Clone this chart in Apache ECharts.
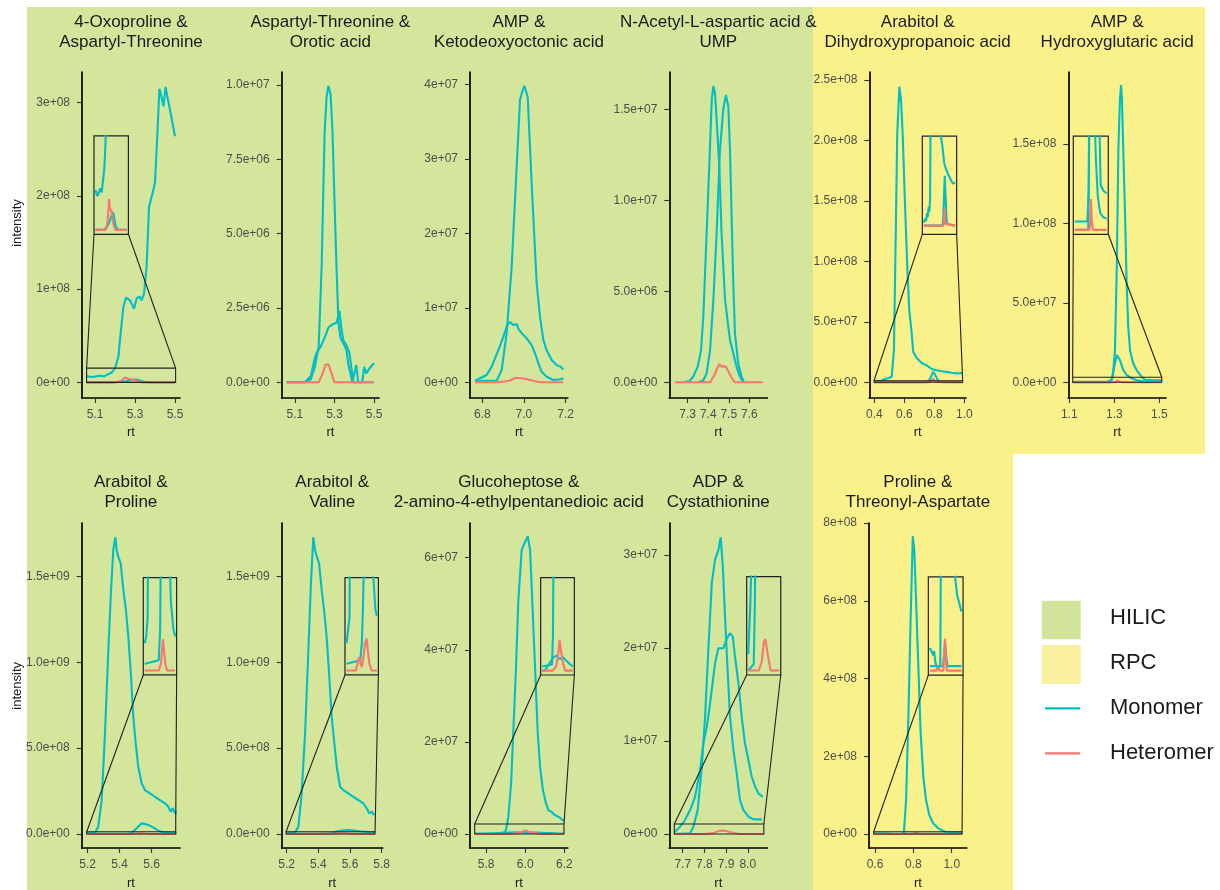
<!DOCTYPE html>
<html><head><meta charset="utf-8">
<script src="https://cdn.jsdelivr.net/npm/echarts@6/dist/echarts.min.js"></script>
<style>html,body{margin:0;padding:0;background:#fff}#c{width:1220px;height:890px}</style>
</head><body><div id="c"></div>
<script>
// ---------------- DATA (rt, intensity) ----------------
// Top row
const t1_mono1 = [[5.058,6.8e6],[5.08,5.8e6],[5.10,6.2e6],[5.125,7.1e6],[5.145,6.4e6],[5.16,8e6],[5.183,1.05e7],[5.20,1.5e7],[5.217,2.75e7],[5.228,5.26e7],[5.242,8.1e7],[5.255,9.1e7],[5.275,8.8e7],[5.295,7.9e7],[5.308,9.0e7],[5.322,9.2e7],[5.333,8.8e7],[5.345,9.5e7],[5.358,1.24e8],[5.37,1.88e8],[5.388,2.03e8],[5.40,2.14e8],[5.412,2.67e8],[5.422,3.15e8],[5.433,3.06e8],[5.442,2.96e8],[5.453,3.17e8],[5.462,3.06e8],[5.478,2.89e8],[5.50,2.64e8]];
const t1_mono2 = [[5.058,0],[5.18,0],[5.22,5e5],[5.25,1.2e6],[5.28,2.2e6],[5.30,3.0e6],[5.315,2.6e6],[5.33,1.5e6],[5.35,5e5],[5.38,0],[5.50,0]];
const t1_het   = [[5.058,0],[5.20,0],[5.225,1e6],[5.24,3e6],[5.25,5.3e6],[5.26,3.8e6],[5.27,3.6e6],[5.285,3.2e6],[5.30,1.8e6],[5.32,6e5],[5.34,0],[5.50,0]];

const t2_mono1 = [[5.058,0],[5.15,0],[5.18,1e5],[5.20,5e5],[5.22,1.2e6],[5.235,3.9e6],[5.25,8.4e6],[5.26,9.6e6],[5.269,9.97e6],[5.28,9.7e6],[5.29,8.4e6],[5.30,6.1e6],[5.31,3.9e6],[5.32,2.0e6],[5.33,1.5e6],[5.345,1.3e6],[5.36,1.1e6],[5.37,6e5],[5.38,3e5],[5.39,0],[5.40,0],[5.41,5.8e5],[5.42,0],[5.44,0],[5.45,5.2e5],[5.46,3e5],[5.48,5e5],[5.50,6.4e5]];
const t2_mono2 = [[5.058,0],[5.15,0],[5.18,2e5],[5.20,8e5],[5.21,1.0e6],[5.23,1.2e6],[5.25,1.5e6],[5.27,1.85e6],[5.29,1.95e6],[5.31,2.0e6],[5.325,2.4e6],[5.335,1.8e6],[5.345,1.4e6],[5.36,1.25e6],[5.375,1.0e6],[5.385,5e5],[5.395,0],[5.50,0]];
const t2_het   = [[5.058,0],[5.22,0],[5.24,3e5],[5.255,6e5],[5.27,6e5],[5.285,3e5],[5.30,0],[5.50,0]];

const t3_mono1 = [[6.765,2e5],[6.869,2e5],[6.893,1.65e6],[6.917,6.6e6],[6.941,1.55e7],[6.965,2.89e7],[6.981,3.79e7],[6.994,3.92e7],[7.002,3.98e7],[7.018,3.83e7],[7.037,2.67e7],[7.061,1.33e7],[7.077,8.8e6],[7.093,5.7e6],[7.109,4.3e6],[7.133,3.0e6],[7.157,2.3e6],[7.176,2.1e6],[7.189,1.7e6]];
const t3_mono2 = [[6.765,2e5],[6.789,5.4e5],[6.821,9.8e5],[6.845,2.1e6],[6.877,4.3e6],[6.901,6.1e6],[6.92,7.7e6],[6.933,8.1e6],[6.949,7.7e6],[6.965,7.8e6],[6.973,7.2e6],[6.989,6.6e6],[7.013,5.9e6],[7.037,5.0e6],[7.053,3.9e6],[7.069,2.55e6],[7.085,1.4e6],[7.109,7.5e5],[7.141,3e5],[7.176,4e5],[7.189,5.4e5]];
const t3_het   = [[6.765,0],[6.88,0],[6.93,2e5],[6.96,6e5],[6.98,5.5e5],[7.0,5e5],[7.03,3e5],[7.06,1e5],[7.08,0],[7.189,0]];

const t4_mono1 = [[7.29,1e5],[7.30,0],[7.311,1e5],[7.327,3.1e5],[7.349,8.6e5],[7.365,1.77e6],[7.376,3.6e6],[7.389,7.27e6],[7.405,1.185e7],[7.417,1.55e7],[7.425,1.628e7],[7.433,1.588e7],[7.441,1.44e7],[7.454,1.185e7],[7.465,8.19e6],[7.482,4.52e6],[7.506,2.32e6],[7.522,1.59e6],[7.538,8.6e5],[7.554,3.1e5],[7.571,0]];
const t4_mono2 = [[7.35,0],[7.376,1e5],[7.392,4.9e5],[7.409,1.77e6],[7.425,4.52e6],[7.441,8.19e6],[7.457,1.276e7],[7.473,1.496e7],[7.486,1.579e7],[7.498,1.514e7],[7.506,1.276e7],[7.514,9.1e6],[7.522,5.44e6],[7.530,2.69e6],[7.546,1.04e6],[7.562,3.1e5],[7.574,0]];
const t4_het   = [[7.239,0],[7.41,0],[7.43,4e5],[7.445,8e5],[7.455,1.0e6],[7.465,8.6e5],[7.475,8.8e5],[7.486,8.6e5],[7.498,6e5],[7.514,2.5e5],[7.53,0],[7.665,0]];

const t5_mono1 = [[0.40,5e5],[0.42,1.2e6],[0.44,8e5],[0.46,2.2e6],[0.47,1.5e6],[0.49,3.3e6],[0.50,2.4e6],[0.516,4.6e6],[0.531,2.67e7],[0.543,1.232e8],[0.553,2.06e8],[0.567,2.445e8],[0.578,2.335e8],[0.589,2.06e8],[0.604,1.495e8],[0.62,9.56e7],[0.633,5.98e7],[0.645,4.6e7],[0.66,2.5e7],[0.683,2.0e7],[0.716,1.6e7],[0.749,1.4e7],[0.783,1.1e7],[0.816,1.0e7],[0.849,9.2e6],[0.883,8.6e6],[0.916,7.9e6],[0.949,7.4e6],[0.989,7.6e6]];
const t5_mono2 = [[0.398,0],[0.74,0],[0.76,5e5],[0.775,4e6],[0.793,8.8e6],[0.81,5e6],[0.825,1.5e6],[0.84,3e5],[0.86,0],[0.989,0]];
const t5_het   = [[0.398,0],[0.765,0],[0.78,1e6],[0.79,3e6],[0.80,1.5e6],[0.81,3e5],[0.82,0],[0.989,0]];

const t6_mono1 = [[1.115,0],[1.281,0],[1.293,3.2e6],[1.303,1.99e7],[1.311,7.2e7],[1.318,1.46e8],[1.325,1.78e8],[1.33,1.87e8],[1.334,1.78e8],[1.34,1.46e8],[1.348,1.04e8],[1.355,6.2e7],[1.362,3.5e7],[1.37,2.0e7],[1.384,1.2e7],[1.399,7.7e6],[1.422,3.5e6],[1.436,1.6e6],[1.47,1.4e6],[1.511,1.3e6]];
const t6_mono2 = [[1.115,3e5],[1.27,3e5],[1.288,1.4e6],[1.303,1.2e7],[1.311,1.72e7],[1.325,1.4e7],[1.34,7.7e6],[1.355,4.6e6],[1.377,2.5e6],[1.40,1.2e6],[1.43,6e5],[1.47,4.5e5],[1.511,4e5]];
const t6_het   = [[1.115,0],[1.295,0],[1.305,2e5],[1.315,1.1e6],[1.325,3e5],[1.34,0],[1.511,0]];

// Bottom row
const b1_mono1 = [[5.194,4e6],[5.22,5e6],[5.246,7.8e6],[5.266,4.3e7],[5.2875,1.98e8],[5.308,5.87e8],[5.329,1.072e9],[5.346,1.422e9],[5.36,1.655e9],[5.373,1.729e9],[5.381,1.655e9],[5.391,1.616e9],[5.406,1.578e9],[5.423,1.422e9],[5.439,1.305e9],[5.454,1.15e9],[5.471,9.17e8],[5.485,6.84e8],[5.50,5.28e8],[5.516,3.92e8],[5.5375,2.95e8],[5.558,2.56e8],[5.589,2.37e8],[5.62,2.17e8],[5.652,1.98e8],[5.683,1.79e8],[5.704,1.59e8],[5.719,1.3e8],[5.731,1.5e8],[5.746,1.2e8],[5.756,1.3e8]];
const b1_mono2 = [[5.194,1e6],[5.45,1.5e6],[5.475,6e6],[5.506,3.3e7],[5.538,6.2e7],[5.558,5.8e7],[5.579,5.2e7],[5.6,4.3e7],[5.62,3.3e7],[5.641,1.9e7],[5.673,1e7],[5.72,6e6],[5.756,5e6]];
const b1_het   = [[5.194,0],[5.45,0],[5.49,1e6],[5.51,3e6],[5.528,4.6e6],[5.545,3e6],[5.57,1e6],[5.60,0],[5.75,0]];

const b2_mono1 = [[5.196,4e6],[5.252,7.8e6],[5.274,4.3e7],[5.294,2.3e8],[5.316,5.87e8],[5.337,1.072e9],[5.353,1.46e9],[5.368,1.729e9],[5.379,1.655e9],[5.39,1.616e9],[5.404,1.578e9],[5.421,1.422e9],[5.436,1.305e9],[5.452,1.15e9],[5.469,9.17e8],[5.484,6.84e8],[5.501,5.28e8],[5.516,3.92e8],[5.537,2.75e8],[5.558,2.56e8],[5.589,2.37e8],[5.62,2.17e8],[5.653,1.98e8],[5.684,1.79e8],[5.705,1.5e8],[5.722,1.2e8],[5.737,1.3e8],[5.751,1.1e8]];
const b2_mono2 = [[5.196,1e6],[5.45,1.5e6],[5.48,4e6],[5.5,9e6],[5.52,1.6e7],[5.55,2e7],[5.586,2.3e7],[5.62,2e7],[5.66,1.6e7],[5.70,1.3e7],[5.73,9e6],[5.758,8e6]];
const b2_het   = [[5.196,0],[5.37,0],[5.40,1e6],[5.43,2e6],[5.46,1e6],[5.48,5e5],[5.51,2e6],[5.54,4e6],[5.568,4.7e6],[5.59,3e6],[5.62,1e6],[5.66,0],[5.758,0]];

const b3_mono1 = [[5.744,1e5],[5.888,1.5e5],[5.902,8.7e5],[5.914,3.76e6],[5.928,1.1e7],[5.939,2.19e7],[5.953,3.63e7],[5.965,5.08e7],[5.982,6.17e7],[6.0,6.35e7],[6.013,6.46e7],[6.025,6.17e7],[6.036,5.08e7],[6.05,3.63e7],[6.064,2.19e7],[6.076,1.46e7],[6.09,9.6e6],[6.106,6.7e6],[6.118,5.2e6],[6.135,4.8e6],[6.152,4.1e6],[6.169,3.76e6],[6.187,3.2e6],[6.198,2.9e6]];
const b3_mono2 = [[5.744,0],[5.78,0],[5.84,1.5e5],[5.91,3.3e5],[5.96,3.7e5],[6.0,2.8e5],[6.05,3.3e5],[6.09,2.6e5],[6.16,1.5e5],[6.198,1e5]];
const b3_het   = [[5.744,0],[5.90,0],[5.95,1e5],[5.98,4e5],[6.0,7.5e5],[6.02,5e5],[6.05,2e5],[6.08,0],[6.198,0]];

const b4_mono1 = [[7.661,0],[7.734,7.5e4],[7.749,7.9e5],[7.769,2.58e6],[7.788,7.24e6],[7.803,1.26e7],[7.818,1.98e7],[7.834,2.7e7],[7.849,2.95e7],[7.864,3.05e7],[7.875,3.19e7],[7.885,2.87e7],[7.895,2.34e7],[7.906,1.8e7],[7.918,1.26e7],[7.934,9.0e6],[7.949,6.5e6],[7.964,3.66e6],[7.98,2.58e6],[8.003,1.86e6],[8.026,1.58e6],[8.065,1.58e6]];
const b4_mono2 = [[7.661,2e5],[7.688,7.9e5],[7.71,1.5e6],[7.734,2.58e6],[7.757,4.0e6],[7.78,6.88e6],[7.795,9.75e6],[7.811,1.154e7],[7.826,1.405e7],[7.849,1.835e7],[7.864,1.997e7],[7.887,1.997e7],[7.903,2.1e7],[7.918,2.158e7],[7.931,2.12e7],[7.941,1.906e7],[7.957,1.62e7],[7.972,1.26e7],[7.987,9.75e6],[8.003,7.96e6],[8.018,6.16e6],[8.034,5.09e6],[8.049,4.37e6],[8.069,4.0e6]];
const b4_het   = [[7.661,0],[7.80,0],[7.84,1e5],[7.87,3.5e5],[7.89,3.8e5],[7.92,2e5],[7.96,0],[8.074,0]];

const b5_mono1 = [[0.593,1.5e6],[0.61,1.4e6],[0.625,1.2e6],[0.64,1.0e6],[0.655,1.3e6],[0.67,6e5],[0.69,3e5],[0.73,2e5],[0.745,5e5],[0.751,6e6],[0.762,8.74e7],[0.774,3.02e8],[0.786,5.59e8],[0.797,7.66e8],[0.805,7.3e8],[0.814,6.02e8],[0.826,4.3e8],[0.838,2.59e8],[0.852,1.47e8],[0.866,8.74e7],[0.883,4.9e7],[0.904,2.7e7],[0.930,1.45e7],[0.965,6e6],[0.99,5e6],[1.02,4.5e6],[1.054,3.9e6]];
const b5_mono2 = [[0.593,3e5],[0.78,3e5],[0.80,1e6],[0.815,1.9e6],[0.83,1e6],[0.85,3e5],[1.054,3e5]];
const b5_het   = [[0.593,0],[0.69,0],[0.70,2e5],[0.72,2e5],[0.74,0],[0.79,0],[0.80,1e6],[0.812,2.1e6],[0.825,8e5],[0.84,0],[1.054,0]];

// Tick values and labels
const t1_xTicks=[5.1,5.3,5.5], t1_xLabels=['5.1','5.3','5.5'];
const t1_yTicks=[0,1e8,2e8,3e8], t1_yLabels=['0e+00','1e+08','2e+08','3e+08'];
const t2_xTicks=[5.1,5.3,5.5], t2_xLabels=['5.1','5.3','5.5'];
const t2_yTicks=[0,2.5e6,5e6,7.5e6,1e7], t2_yLabels=['0.0e+00','2.5e+06','5.0e+06','7.5e+06','1.0e+07'];
const t3_xTicks=[6.8,7.0,7.2], t3_xLabels=['6.8','7.0','7.2'];
const t3_yTicks=[0,1e7,2e7,3e7,4e7], t3_yLabels=['0e+00','1e+07','2e+07','3e+07','4e+07'];
const t4_xTicks=[7.3,7.4,7.5,7.6], t4_xLabels=['7.3','7.4','7.5','7.6'];
const t4_yTicks=[0,5e6,1e7,1.5e7], t4_yLabels=['0.0e+00','5.0e+06','1.0e+07','1.5e+07'];
const t5_xTicks=[0.4,0.6,0.8,1.0], t5_xLabels=['0.4','0.6','0.8','1.0'];
const t5_yTicks=[0,5e7,1e8,1.5e8,2e8,2.5e8], t5_yLabels=['0.0e+00','5.0e+07','1.0e+08','1.5e+08','2.0e+08','2.5e+08'];
const t6_xTicks=[1.1,1.3,1.5], t6_xLabels=['1.1','1.3','1.5'];
const t6_yTicks=[0,5e7,1e8,1.5e8], t6_yLabels=['0.0e+00','5.0e+07','1.0e+08','1.5e+08'];
const b1_xTicks=[5.2,5.4,5.6], b1_xLabels=['5.2','5.4','5.6'];
const b1_yTicks=[0,5e8,1e9,1.5e9], b1_yLabels=['0.0e+00','5.0e+08','1.0e+09','1.5e+09'];
const b2_xTicks=[5.2,5.4,5.6,5.8], b2_xLabels=['5.2','5.4','5.6','5.8'];
const b2_yTicks=[0,5e8,1e9,1.5e9], b2_yLabels=['0.0e+00','5.0e+08','1.0e+09','1.5e+09'];
const b3_xTicks=[5.8,6.0,6.2], b3_xLabels=['5.8','6.0','6.2'];
const b3_yTicks=[0,2e7,4e7,6e7], b3_yLabels=['0e+00','2e+07','4e+07','6e+07'];
const b4_xTicks=[7.7,7.8,7.9,8.0], b4_xLabels=['7.7','7.8','7.9','8.0'];
const b4_yTicks=[0,1e7,2e7,3e7], b4_yLabels=['0e+00','1e+07','2e+07','3e+07'];
const b5_xTicks=[0.6,0.8,1.0], b5_xLabels=['0.6','0.8','1.0'];
const b5_yTicks=[0,2e8,4e8,6e8,8e8], b5_yLabels=['0e+00','2e+08','4e+08','6e+08','8e+08'];

// Panel titles
const titles = {
  t1:'4-Oxoproline &\nAspartyl-Threonine', t2:'Aspartyl-Threonine &\nOrotic acid', t3:'AMP &\nKetodeoxyoctonic acid',
  t4:'N-Acetyl-L-aspartic acid &\nUMP', t5:'Arabitol &\nDihydroxypropanoic acid', t6:'AMP &\nHydroxyglutaric acid',
  b1:'Arabitol &\nProline', b2:'Arabitol &\nValine', b3:'Glucoheptose &\n2-amino-4-ethylpentanedioic acid',
  b4:'ADP &\nCystathionine', b5:'Proline &\nThreonyl-Aspartate'
};
// Magnified regions: [x0, x1, y0, y1] in data units; inset placement in panel data units
const t1_from=[5.058,5.503,0,1.53e7],  t1_to=[5.095,5.267,1.588e8,2.643e8];
const t5_from=[0.398,0.989,0,1.3e6],   t5_to=[0.72,0.949,1.224e8,2.037e8];
const t6_from=[1.115,1.511,0,3.2e6],   t6_to=[1.1178,1.2733,0.9314e8,1.55e8];
const b1_from=[5.194,5.75,0,1.3e7],    b1_to=[5.5475,5.756,0.9266e9,1.4936e9];
const b2_from=[5.196,5.758,0,1.3e7],   b2_to=[5.568,5.779,0.9266e9,1.4936e9];
const b3_from=[5.742,6.198,0,2.17e6],  b3_to=[6.079,6.251,3.453e7,5.566e7];
const b4_from=[7.661,8.074,0,1.08e6],  b4_to=[7.995,8.152,1.71e7,2.767e7];
const b5_from=[0.593,1.054,0,5.9e6],   b5_to=[0.878,1.059,4.087e8,6.614e8];

// ---------------- LAYOUT / STYLE ----------------
const FONT = '"Liberation Sans", Arial, Helvetica, sans-serif';
const MONO = '#00BFC4', HET = '#F8766D';
const GREEN = '#d4e59c', YELLOW = '#fbf18b';
const LW = 2.1;

const TOP_A = 72, H_A = 326, TOP_B = 523, H_B = 325;
const panels = [
  {id:'t1', left:82,    top:TOP_A, width:98,   height:H_A, x:[5.035,5.525],   y:[-0.168e8,3.329e8], mono:[t1_mono1,t1_mono2], het:t1_het, xt:t1_xTicks, xl:t1_xLabels, yt:t1_yTicks, yl:t1_yLabels, from:t1_from, to:t1_to},
  {id:'t2', left:281.7, top:TOP_A, width:97.3, height:H_A, x:[5.033,5.525],   y:[-0.0528e7,1.0437e7], mono:[t2_mono1,t2_mono2], het:t2_het, xt:t2_xTicks, xl:t2_xLabels, yt:t2_yTicks, yl:t2_yLabels},
  {id:'t3', left:470,   top:TOP_A, width:97.7, height:H_A, x:[6.741,7.21],    y:[-0.211e7,4.165e7], mono:[t3_mono1,t3_mono2], het:t3_het, xt:t3_xTicks, xl:t3_xLabels, yt:t3_yTicks, yl:t3_yLabels},
  {id:'t4', left:669.3, top:TOP_A, width:98,   height:H_A, x:[7.2105,7.6876], y:[-0.0863e7,1.705e7], mono:[t4_mono1,t4_mono2], het:t4_het, xt:t4_xTicks, xl:t4_xLabels, yt:t4_yTicks, yl:t4_yLabels},
  {id:'t5', left:869.3, top:TOP_A, width:96.7, height:H_A, x:[0.3667,1.0113], y:[-0.13e8,2.567e8], mono:[t5_mono1,t5_mono2], het:t5_het, xt:t5_xTicks, xl:t5_xLabels, yt:t5_yTicks, yl:t5_yLabels, from:t5_from, to:t5_to, viewY:[-0.75e6,1.5e7]},
  {id:'t6', left:1068.3,top:TOP_A, width:97.7, height:H_A, x:[1.0956,1.5298], y:[-0.0988e8,1.953e8], mono:[t6_mono1,t6_mono2], het:t6_het, xt:t6_xTicks, xl:t6_xLabels, yt:t6_yTicks, yl:t6_yLabels, from:t6_from, to:t6_to},
  {id:'b1', left:81.7,  top:TOP_B, width:98.3, height:H_B, x:[5.1625,5.777],  y:[-0.0816e9,1.812e9], mono:[b1_mono1,b1_mono2], het:b1_het, xt:b1_xTicks, xl:b1_xLabels, yt:b1_yTicks, yl:b1_yLabels, from:b1_from, to:b1_to},
  {id:'b2', left:281.7, top:TOP_B, width:101,  height:H_B, x:[5.1684,5.8063], y:[-0.0816e9,1.812e9], mono:[b2_mono1,b2_mono2], het:b2_het, xt:b2_xTicks, xl:b2_xLabels, yt:b2_yTicks, yl:b2_yLabels, from:b2_from, to:b2_to},
  {id:'b3', left:470,   top:TOP_B, width:97.7, height:H_B, x:[5.718,6.217],   y:[-0.304e7,6.754e7], mono:[b3_mono1,b3_mono2], het:b3_het, xt:b3_xTicks, xl:b3_xLabels, yt:b3_yTicks, yl:b3_yLabels, from:b3_from, to:b3_to},
  {id:'b4', left:669.3, top:TOP_B, width:98,   height:H_B, x:[7.638,8.090],   y:[-0.15e7,3.344e7], mono:[b4_mono1,b4_mono2], het:b4_het, xt:b4_xTicks, xl:b4_xLabels, yt:b4_yTicks, yl:b4_yLabels, from:b4_from, to:b4_to},
  {id:'b5', left:869,   top:TOP_B, width:97.7, height:H_B, x:[0.5687,1.078],  y:[-0.36e8,8.0e8], mono:[b5_mono1,b5_mono2], het:b5_het, xt:b5_xTicks, xl:b5_xLabels, yt:b5_yTicks, yl:b5_yLabels, from:b5_from, to:b5_to}
];

function lookup(ticks, labels) {
  return function (v) {
    for (let i = 0; i < ticks.length; i++) {
      if (Math.abs(ticks[i] - v) <= 1e-9 * Math.max(1, Math.abs(ticks[i]))) return labels[i];
    }
    return '';
  };
}
// same linear mapping the grid uses (grid rect + axis min/max)
function toPx(p, x, y) {
  return [p.left + (x - p.x[0]) / (p.x[1] - p.x[0]) * p.width,
          p.top + (p.y[1] - y) / (p.y[1] - p.y[0]) * p.height];
}
function lineSeries(gi, data, color, width, z) {
  return {type:'line', xAxisIndex:gi, yAxisIndex:gi, data:data, symbol:'none', showSymbol:false,
    lineStyle:{color:color, width:width}, itemStyle:{color:color}, silent:true, animation:false,
    z:z, clip:true, emphasis:{disabled:true}};
}

const grid = [], xAxis = [], yAxis = [], series = [], graphic = [];

// backgrounds
graphic.push({type:'rect', shape:{x:27, y:7, width:786, height:883}, style:{fill:GREEN}, z:-100, silent:true});
graphic.push({type:'rect', shape:{x:813, y:7, width:392, height:447}, style:{fill:YELLOW}, z:-100, silent:true});
graphic.push({type:'rect', shape:{x:813, y:454, width:200, height:436}, style:{fill:YELLOW}, z:-100, silent:true});

function txt(x, y, text, size, align, vAlign, color, rotation) {
  return {type:'text', x:x, y:y, rotation:rotation || 0, z:100, silent:true,
    style:{text:text, fontSize:size, fontFamily:FONT, fill:color, lineHeight:20,
      textAlign:align, align:align, textVerticalAlign:vAlign, verticalAlign:vAlign}};
}
function seg(a, b) {
  return {type:'line', shape:{x1:a[0], y1:a[1], x2:b[0], y2:b[1]}, style:{stroke:'#222', lineWidth:1.1}, z:60, silent:true};
}

panels.forEach(function (p) {
  const gi = grid.length;
  grid.push({left:p.left, top:p.top, width:p.width, height:p.height, containLabel:false, outerBoundsMode:'none'});
  xAxis.push({gridIndex:gi, type:'value', min:p.x[0], max:p.x[1],
    axisLine:{show:true, onZero:false, lineStyle:{color:'#000', width:1.7}},
    axisTick:{show:true, customValues:p.xt, length:5, lineStyle:{color:'#333', width:1.1}},
    axisLabel:{show:true, customValues:p.xt, formatter:lookup(p.xt, p.xl), color:'#4d4d4d', fontSize:12, fontFamily:FONT, margin:11},
    splitLine:{show:false}});
  yAxis.push({gridIndex:gi, type:'value', min:p.y[0], max:p.y[1],
    axisLine:{show:true, onZero:false, lineStyle:{color:'#000', width:1.7}},
    axisTick:{show:true, customValues:p.yt, length:5, lineStyle:{color:'#333', width:1.1}},
    axisLabel:{show:true, customValues:p.yt, formatter:lookup(p.yt, p.yl), color:'#4d4d4d', fontSize:12, fontFamily:FONT, margin:12},
    splitLine:{show:false}});
  p.mono.forEach(function (d) { series.push(lineSeries(gi, d, MONO, LW, 2)); });
  series.push(lineSeries(gi, p.het, HET, LW, 3));

  const cx = p.left + p.width / 2;
  const isTop = p.top === TOP_A;
  graphic.push(txt(cx, isTop ? 12.7 : 472.3, titles[p.id], 17, 'center', 'top', '#1a1a1a'));
  graphic.push(txt(cx, isTop ? 432.7 : 883.3, 'rt', 13, 'center', 'middle', '#1a1a1a'));

  if (p.from) {
    const f = p.from, t = p.to;
    // source rectangle + projection lines
    const s0 = toPx(p, f[0], f[3]), s1 = toPx(p, f[1], f[2]);
    graphic.push({type:'rect', shape:{x:s0[0], y:s0[1], width:s1[0]-s0[0], height:s1[1]-s0[1]},
      style:{fill:'none', stroke:'#222', lineWidth:1.1}, z:60, silent:true});
    graphic.push(seg(toPx(p, t[0], t[2]), toPx(p, f[0], f[3])));
    graphic.push(seg(toPx(p, t[1], t[2]), toPx(p, f[1], f[3])));
    // inset grid
    const a = toPx(p, t[0], t[3]), b = toPx(p, t[1], t[2]);
    const ii = grid.length;
    grid.push({left:a[0], top:a[1], width:b[0]-a[0], height:b[1]-a[1], show:true, borderColor:'#222', borderWidth:1.2,
      backgroundColor:'transparent', containLabel:false, outerBoundsMode:'none'});
    const dx = (f[1]-f[0]) * 0.05;
    const vy = p.viewY || [f[2], f[3]];
    const dy = (vy[1]-vy[0]) * 0.05;
    xAxis.push({gridIndex:ii, type:'value', min:f[0]-dx, max:f[1]+dx, show:false});
    yAxis.push({gridIndex:ii, type:'value', min:vy[0]-dy, max:vy[1]+dy, show:false});
    p.mono.forEach(function (d) { series.push(lineSeries(ii, d, MONO, LW, 6)); });
    series.push(lineSeries(ii, p.het, HET, LW, 7));
  }
});

// y-axis titles
graphic.push(txt(17.3, 223, 'intensity', 13, 'center', 'middle', '#1a1a1a', Math.PI / 2));
graphic.push(txt(17.3, 685.8, 'intensity', 13, 'center', 'middle', '#1a1a1a', Math.PI / 2));

// legend
graphic.push({type:'rect', shape:{x:1041.7, y:600.7, width:39, height:38.6}, style:{fill:'#d2e39b'}, z:50, silent:true});
graphic.push({type:'rect', shape:{x:1041.7, y:645, width:39, height:39}, style:{fill:'#f9f09f'}, z:50, silent:true});
graphic.push({type:'line', shape:{x1:1045, y1:708.3, x2:1080, y2:708.3}, style:{stroke:MONO, lineWidth:2.2}, z:50, silent:true});
graphic.push({type:'line', shape:{x1:1045, y1:753.3, x2:1080, y2:753.3}, style:{stroke:HET, lineWidth:2.2}, z:50, silent:true});
graphic.push(txt(1110, 618.3, 'HILIC', 22, 'left', 'middle', '#1a1a1a'));
graphic.push(txt(1110, 663.3, 'RPC', 22, 'left', 'middle', '#1a1a1a'));
graphic.push(txt(1110, 708.3, 'Monomer', 22, 'left', 'middle', '#1a1a1a'));
graphic.push(txt(1110, 752.7, 'Heteromer', 22, 'left', 'middle', '#1a1a1a'));

const chart = echarts.init(document.getElementById('c'), null, {renderer:'canvas', width:1220, height:890});
chart.setOption({
  backgroundColor:'#ffffff',
  animation:false,
  grid:grid, xAxis:xAxis, yAxis:yAxis, series:series,
  graphic:{elements:graphic}
});
</script>
</body></html>
